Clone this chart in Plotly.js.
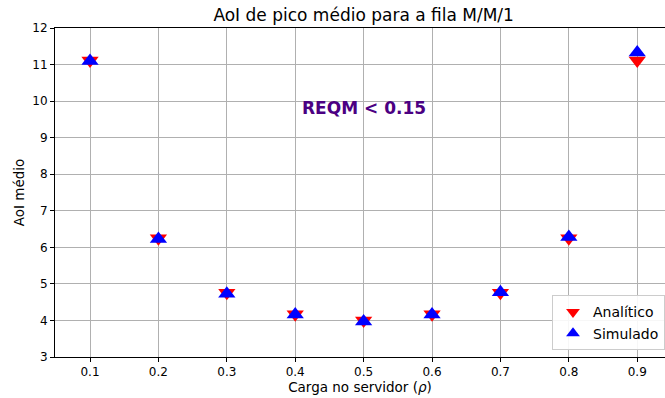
<!DOCTYPE html>
<html>
<head>
<meta charset="utf-8">
<script src="https://cdn.plot.ly/plotly-3.0.1.min.js"></script>
<style>html,body{margin:0;padding:0;background:#fff;}#chart{width:665px;height:398px;}</style>
</head>
<body>
<div id="chart"></div>
<script>
// Server load (rho) and mean peak AoI for the M/M/1 queue
const carga = [0.1, 0.2, 0.3, 0.4, 0.5, 0.6, 0.7, 0.8, 0.9];
const analitico = [11.11, 6.25, 4.76, 4.17, 4.00, 4.17, 4.76, 6.25, 11.11];
const simulado = [11.10, 6.23, 4.73, 4.16, 3.97, 4.16, 4.77, 6.28, 11.33];
const xTicks = [0.1, 0.2, 0.3, 0.4, 0.5, 0.6, 0.7, 0.8, 0.9];
const yTicks = [3, 4, 5, 6, 7, 8, 9, 10, 11, 12];
const rotuloErro = 'REQM < 0.15';

const fonte = 'DejaVu Sans, sans-serif';

const traces = [
  {
    x: carga, y: analitico, type: 'scatter', mode: 'markers', name: 'Analítico',
    marker: {symbol: 'triangle-down', size: 15, color: '#ff0000'}
  },
  {
    x: carga, y: simulado, type: 'scatter', mode: 'markers', name: 'Simulado',
    marker: {symbol: 'triangle-up', size: 15, color: '#0000ff'}
  }
];

const layout = {
  width: 665, height: 398,
  margin: {l: 55, r: 0, t: 28, b: 41},
  paper_bgcolor: '#ffffff', plot_bgcolor: '#ffffff',
  font: {family: fonte, size: 12, color: '#000'},
  title: {
    text: 'AoI de pico médio para a fila M/M/1',
    font: {family: fonte, size: 17, color: '#000'},
    x: 0.506, xref: 'paper', xanchor: 'center', y: 0.963, yanchor: 'middle'
  },
  xaxis: {
    range: [0.0488, 0.9406], tickvals: xTicks, ticktext: xTicks.map(v => v.toFixed(1)),
    ticks: 'outside', ticklen: 4, tickcolor: '#000', showgrid: true, gridcolor: '#b0b0b0', gridwidth: 1,
    zeroline: false, showline: true, linecolor: '#000', linewidth: 1, mirror: true,
    title: {text: 'Carga no servidor (<i>ρ</i>)', font: {family: fonte, size: 13.5}, standoff: 4},
    tickfont: {family: fonte, size: 12}
  },
  yaxis: {
    range: [3, 12], tickvals: yTicks,
    ticks: 'outside', ticklen: 4, tickcolor: '#000', showgrid: true, gridcolor: '#b0b0b0', gridwidth: 1,
    zeroline: false, showline: true, linecolor: '#000', linewidth: 1, mirror: false,
    title: {text: 'AoI médio', font: {family: fonte, size: 13.5}, standoff: 4},
    tickfont: {family: fonte, size: 12}
  },
  legend: {
    x: 1, xanchor: 'right', y: 0.02, yanchor: 'bottom',
    bgcolor: 'rgba(255,255,255,0.9)', bordercolor: '#cccccc', borderwidth: 1,
    font: {family: fonte, size: 14}, itemsizing: 'constant', tracegroupgap: 2
  },
  annotations: [{
    x: 0.5, y: 9.8, xref: 'x', yref: 'y', text: '<b>' + rotuloErro + '</b>', showarrow: false,
    font: {family: fonte, size: 17, color: '#4b0082'}
  }]
};

Plotly.newPlot('chart', traces, layout, {displayModeBar: false, staticPlot: true});
</script>
</body>
</html>
